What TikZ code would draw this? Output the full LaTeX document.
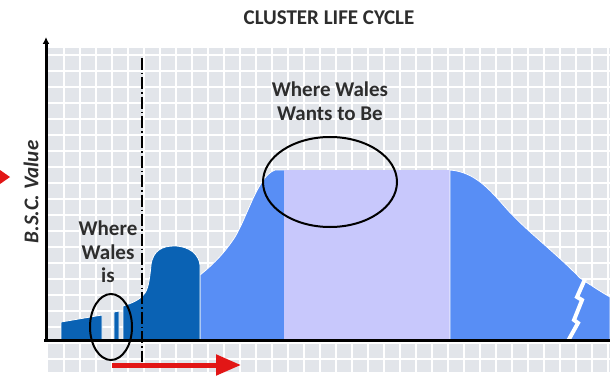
\documentclass[tikz,border=0pt]{standalone}
\usepackage{fontspec}
\setmainfont{Carlito}
\usetikzlibrary{arrows.meta, positioning}

\definecolor{gridgray}{RGB}{226,229,234}
\definecolor{darkblue}{RGB}{10,98,180}
\definecolor{midblue}{RGB}{88,142,245}
\definecolor{lavender}{RGB}{200,200,252}
\definecolor{arrowred}{RGB}{226,22,22}
\definecolor{textgray}{RGB}{45,45,45}

\begin{document}
\begin{tikzpicture}[
		x=1pt, y=-1pt,
		title/.style= {
				font=\fontsize{21}{24}\selectfont\bfseries,
				text=textgray,
				inner sep=0pt
			},
		note/.style= {
				font=\fontsize{21}{23.5}\selectfont\bfseries,
				text=textgray,
				align=center,
				inner sep=0pt
			},
		blob/.style= {
				draw=white,
				line width=0.8pt
			},
		ring/.style= {
				draw=black,
				line width=2pt
			},
		redarrow/.style= {
				draw=arrowred,
				line width=5pt,
				-{Triangle[length=25pt, width=20pt]}
			}
	]

	\useasboundingbox[fill=white] (0,0) rectangle (610,377);

	% grid paper
	\fill[gridgray] (48,48) rectangle (610,372);
	\foreach \gx in {64,80,...,608}
		\draw[white, line width=1.2pt] (\gx,48) -- (\gx,372);
	\foreach \gy in {55,71,...,359}
		\draw[white, line width=1.2pt] (48,\gy) -- (610,\gy);

	% stages
	\fill[darkblue, blob] (61,340) -- (61,322) -- (102,315) -- (102,340) -- cycle;
	\fill[darkblue, blob] (114,340) -- (114,312) -- (119,311) -- (119,340) -- cycle;
	\fill[midblue, blob] (200,340) -- (200,275) .. controls (215,263) and (225,252) .. (235,237)
		.. controls (248,215) and (258,176) .. (275,170) -- (286,170) -- (286,340) -- cycle;
	\fill[darkblue, blob] (123,340) -- (123,306) .. controls (132,303) and (140,300) .. (145,293)
		.. controls (149,287) and (150,275) .. (151,265)
		.. controls (153,250) and (163,246) .. (174,246)
		.. controls (190,246) and (199,255) .. (200,265) -- (200,340) -- cycle;
	\fill[lavender] (284,170) rectangle (450,340);
	\fill[midblue, blob] (450,340) -- (450,170) .. controls (475,172) and (490,190) .. (505,207)
		.. controls (525,230) and (555,252) .. (580,278)
		.. controls (595,288) and (603,293) .. (610,297) -- (610,340) -- cycle;
	\draw[white, line width=4pt] (585,279) -- (577,297) -- (582,300) -- (574,320) -- (578,323) -- (568,341);

	% axes
	\coordinate (origin) at (46,340);
	\coordinate (ytop) at (46,37);
	\coordinate (xend) at (610,340);
	\draw[line width=3pt] (44,340) -- (xend);
	\draw[line width=3pt, -{Latex[length=7pt, width=7pt]}] (origin) -- (ytop);
	\coordinate (cutTop) at (142,58);
	\coordinate (cutBot) at (142,362);
	\draw[line width=1.2pt, dash pattern=on 12pt off 3pt on 1.5pt off 3pt] (cutTop) -- (cutBot);

	% texts
	\node[title] (head) at (329,18) {CLUSTER LIFE CYCLE};
	\node[note] (wants) at (330,101) {Where Wales\\Wants to Be};
	\node[note] (now) at (108,252) {Where\\Wales\\is};
	\node[note, font=\fontsize{21}{24}\selectfont\bfseries\itshape, rotate=90] (axisname) at (31,192) {B.S.C. Value};

	% rings
	\draw[ring] (330,182) ellipse [x radius=67, y radius=45];
	\draw[ring] (111,327) ellipse [x radius=21, y radius=33];

	% red arrows
	\coordinate (runStart) at (112,365);
	\coordinate (runEnd) at (241,365);
	\draw[redarrow] (runStart) -- (runEnd);
	\fill[arrowred] (0,170) -- (10,177) -- (0,184) -- cycle;
\end{tikzpicture}
\end{document}
